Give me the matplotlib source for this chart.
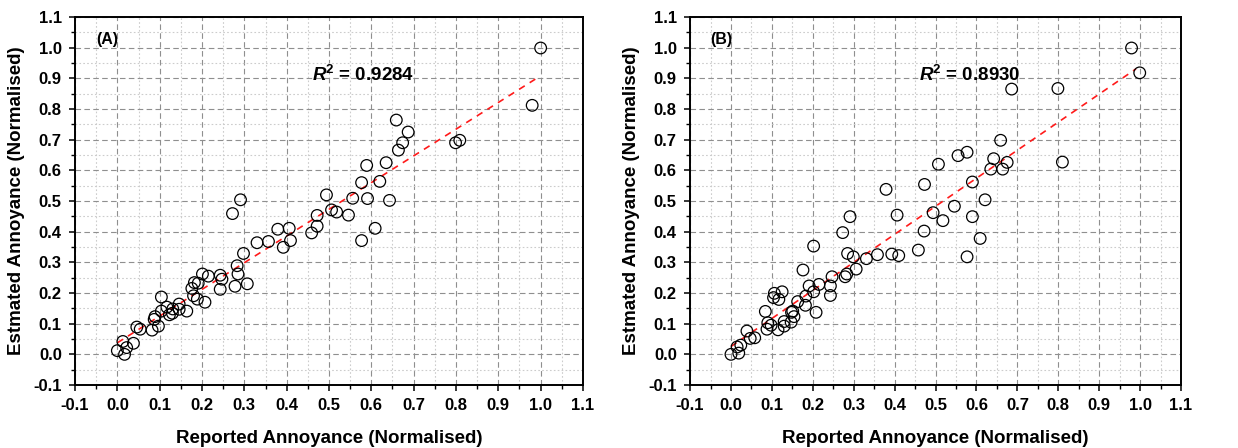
import numpy as np
import matplotlib
matplotlib.use('Agg')
import matplotlib.pyplot as plt
from matplotlib.ticker import MultipleLocator

plt.rcParams['font.family'] = ['Liberation Sans', 'DejaVu Sans']
plt.rcParams['font.weight'] = 'bold'
plt.rcParams['axes.unicode_minus'] = False
plt.rcParams['mathtext.fontset'] = 'custom'
plt.rcParams['mathtext.bfit'] = 'Liberation Sans:italic:bold'
plt.rcParams['mathtext.bf'] = 'Liberation Sans:bold'

# Panel A: reported vs estimated annoyance
rep_a = [1.000, 0.980, 0.659, 0.687, 0.674, 0.664, 0.799, 0.809, 0.589, 0.635,
         0.577, 0.620, 0.494, 0.556, 0.591, 0.643, 0.291, 0.272, 0.506, 0.518,
         0.546, 0.472, 0.472, 0.459, 0.379, 0.406, 0.609, 0.577, 0.409, 0.392,
         0.357, 0.330, 0.298, 0.283, 0.285, 0.278, 0.307, 0.243, 0.247, 0.243,
         0.201, 0.215, 0.191, 0.182, 0.176, 0.180, 0.189, 0.207, 0.104, 0.146,
         0.164, 0.117, 0.131, 0.146, 0.104, 0.123, 0.130, 0.089, 0.087, 0.097,
         0.082, 0.046, 0.054, 0.038, 0.013, 0.022, 0.000, 0.017]
est_a = [0.999, 0.812, 0.764, 0.725, 0.690, 0.666, 0.690, 0.698, 0.616, 0.625,
         0.560, 0.564, 0.520, 0.509, 0.508, 0.502, 0.504, 0.459, 0.471, 0.464,
         0.454, 0.453, 0.418, 0.396, 0.408, 0.411, 0.411, 0.371, 0.371, 0.349,
         0.368, 0.364, 0.329, 0.289, 0.262, 0.222, 0.230, 0.258, 0.245, 0.212,
         0.262, 0.255, 0.232, 0.234, 0.215, 0.191, 0.180, 0.170, 0.187, 0.164,
         0.141, 0.154, 0.148, 0.147, 0.141, 0.129, 0.134, 0.123, 0.114, 0.092,
         0.079, 0.089, 0.082, 0.036, 0.042, 0.022, 0.012, 0.000]

# Panel B
rep_b = [0.979, 0.999, 0.686, 0.799, 0.659, 0.810, 0.577, 0.555, 0.642, 0.675,
         0.635, 0.664, 0.507, 0.473, 0.590, 0.379, 0.621, 0.546, 0.494, 0.406,
         0.291, 0.590, 0.518, 0.273, 0.472, 0.609, 0.202, 0.458, 0.577, 0.285,
         0.299, 0.358, 0.393, 0.410, 0.331, 0.306, 0.176, 0.247, 0.279, 0.283,
         0.243, 0.243, 0.215, 0.191, 0.202, 0.183, 0.163, 0.151, 0.182, 0.208,
         0.148, 0.154, 0.147, 0.106, 0.125, 0.104, 0.117, 0.084, 0.090, 0.098,
         0.088, 0.115, 0.130, 0.130, 0.039, 0.047, 0.058, 0.024, 0.015, 0.019,
         0.000]
est_b = [0.999, 0.918, 0.865, 0.867, 0.698, 0.627, 0.659, 0.648, 0.638, 0.626,
         0.604, 0.604, 0.620, 0.554, 0.562, 0.538, 0.504, 0.483, 0.462, 0.454,
         0.449, 0.449, 0.436, 0.397, 0.402, 0.378, 0.353, 0.340, 0.318, 0.329,
         0.318, 0.325, 0.327, 0.322, 0.312, 0.278, 0.275, 0.253, 0.253, 0.262,
         0.223, 0.192, 0.228, 0.223, 0.204, 0.190, 0.172, 0.141, 0.160, 0.137,
         0.137, 0.123, 0.105, 0.199, 0.204, 0.185, 0.179, 0.140, 0.103, 0.095,
         0.082, 0.080, 0.107, 0.092, 0.076, 0.052, 0.054, 0.030, 0.024, 0.004,
         0.000]

panels = [
    (rep_a, est_a, '(A)', '0.9284', [0.0606, 0.1406, 0.4103, 0.8214]),
    (rep_b, est_b, '(B)', '0.8930', [0.5574, 0.1406, 0.3966, 0.8214]),
]

fig = plt.figure(figsize=(12.38, 4.48), dpi=100)

for rep, est, tag, r2, rect in panels:
    ax = fig.add_axes(rect)
    ax.set_xlim(-0.1, 1.1)
    ax.set_ylim(-0.1, 1.1)
    ax.xaxis.set_major_locator(MultipleLocator(0.1))
    ax.yaxis.set_major_locator(MultipleLocator(0.1))
    ax.xaxis.set_minor_locator(MultipleLocator(0.05))
    ax.yaxis.set_minor_locator(MultipleLocator(0.05))
    ax.set_axisbelow(True)
    ax.grid(which='major', color='#8f8f8f', linestyle=(0, (5, 3)), linewidth=0.8)
    ax.grid(which='minor', color='#cccccc', linestyle=(0, (1.5, 2)), linewidth=0.8)

    # linear fit
    k, b = np.polyfit(rep, est, 1)
    xx = np.array([0.0, 0.99])
    ax.plot(xx, k * xx + b, color='#ff1a1a', linestyle=(0, (4, 3.5)), linewidth=1.2, zorder=2)

    ax.scatter(rep, est, s=70, facecolors='none', edgecolors='black', linewidths=0.9, zorder=3)

    ax.text(-0.05, 1.026, tag, fontsize=11.5, fontweight='bold', ha='left', va='center')
    ax.text(0.46, 0.912, r'$\mathbfit{R}^{\mathbf{2}}$ = ' + r2, fontsize=13.5,
            fontweight='bold', ha='left', va='center')

    ax.set_xlabel('Reported Annoyance (Normalised)', fontsize=13.5, fontweight='bold', labelpad=12)
    ax.set_ylabel('Estmated Annoyance (Normalised)', fontsize=13.5, fontweight='bold', labelpad=6)

    for s in ax.spines.values():
        s.set_linewidth(1.4)
    ax.tick_params(which='major', direction='out', length=4.5, width=1.1, labelsize=12, pad=5)
    ax.tick_params(which='minor', direction='out', length=3, width=1.0)
    for lab in ax.get_xticklabels() + ax.get_yticklabels():
        lab.set_fontweight('bold')

fig.savefig('out.png', dpi=100)
